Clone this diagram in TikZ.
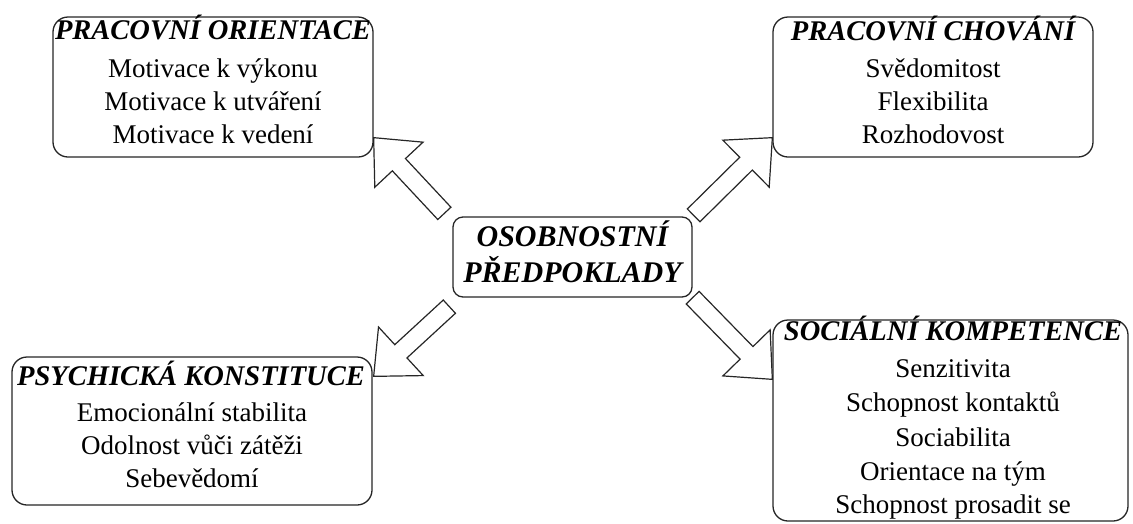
\documentclass[tikz,border=0pt]{standalone}
\usepackage{fontspec}
\setmainfont{Liberation Serif}
\usetikzlibrary{calc}
\tikzset{
  box/.style={draw=black!85, line width=1.3pt, rounded corners=15pt, fill=white, inner sep=0pt},
  cbox/.style={draw=black!85, line width=1.3pt, rounded corners=10pt, fill=white, inner sep=0pt},
  txt/.style={inner sep=0pt, anchor=base, font=\fontsize{27}{33}\selectfont},
  ttl/.style={inner sep=0pt, anchor=base, font=\fontsize{28.5}{33}\selectfont\bfseries\itshape},
  ctl/.style={inner sep=0pt, anchor=base, font=\fontsize{30}{36}\selectfont\bfseries\itshape},
  blockarrow/.style={draw=black!85, line width=1.2pt, fill=white, line join=miter,
    to path={
      ($(\tikztostart)!9pt!90:(\tikztotarget)$)
      -- ($(\tikztotarget)!37pt!(\tikztostart)!9pt!-90:(\tikztostart)$)
      -- ($(\tikztotarget)!37pt!(\tikztostart)!33pt!-90:(\tikztostart)$)
      -- (\tikztotarget)
      -- ($(\tikztotarget)!37pt!(\tikztostart)!33pt!90:(\tikztostart)$)
      -- ($(\tikztotarget)!37pt!(\tikztostart)!9pt!90:(\tikztostart)$)
      -- ($(\tikztostart)!9pt!-90:(\tikztotarget)$)
      -- cycle}}
}
\begin{document}
\begin{tikzpicture}[x=1pt,y=-1pt]
\useasboundingbox (0,0) rectangle (1133,523);
% boxes
\node[box, minimum width=320pt, minimum height=140pt] (po) at (213,87) {};
\node[box, minimum width=320pt, minimum height=140pt] (pch) at (933,87) {};
\node[cbox, minimum width=239pt, minimum height=80pt] (c) at (572.5,257) {};
\node[box, minimum width=360pt, minimum height=148pt] (pk) at (192,431) {};
\node[box, minimum width=355pt, minimum height=201pt] (sk) at (950.5,420.5) {};
% texts
\node[ttl] (po0) at (213,39) {PRACOVNÍ ORIENTACE};
\node[txt] (po1) at (213,77) {Motivace k výkonu};
\node[txt] (po2) at (213,110) {Motivace k utváření};
\node[txt] (po3) at (213,143) {Motivace k vedení};
\node[ttl] (pch0) at (933,40) {PRACOVNÍ CHOVÁNÍ};
\node[txt] (pch1) at (933,77) {Svědomitost};
\node[txt] (pch2) at (933,110) {Flexibilita};
\node[txt] (pch3) at (933,143) {Rozhodovost};
\node[ctl] (c0) at (572.5,246) {OSOBNOSTNÍ};
\node[ctl] (c1) at (572.5,282) {PŘEDPOKLADY};
\node[ttl] (pk0) at (191,385) {PSYCHICKÁ KONSTITUCE};
\node[txt] (pk1) at (192,421) {Emocionální stabilita};
\node[txt] (pk2) at (192,454) {Odolnost vůči zátěži};
\node[txt] (pk3) at (192,487) {Sebevědomí};
\node[ttl] (sk0) at (953,340) {SOCIÁLNÍ KOMPETENCE};
\node[txt] (sk1) at (953,377) {Senzitivita};
\node[txt] (sk2) at (953,411) {Schopnost kontaktů};
\node[txt] (sk3) at (953,446) {Sociabilita};
\node[txt] (sk4) at (953,480) {Orientace na tým};
\node[txt] (sk5) at (953,513) {Schopnost prosadit se};
% arrow end points
\coordinate (a1s) at ($(c.north west)+(-8,-3)$);
\coordinate (a1e) at ($(po.south east)+(0,-20)$);
\coordinate (a2s) at ($(c.north east)+(1,-1)$);
\coordinate (a2e) at ($(pch.south west)+(0,-20)$);
\coordinate (a3s) at ($(c.south west)+(-3,9)$);
\coordinate (a3e) at ($(pk.north east)+(1,20)$);
\coordinate (a4s) at ($(c.south east)+(0,0)$);
\coordinate (a4e) at ($(sk.north west)+(0,60)$);
\draw[blockarrow] (a1s) to (a1e);
\draw[blockarrow] (a2s) to (a2e);
\draw[blockarrow] (a3s) to (a3e);
\draw[blockarrow] (a4s) to (a4e);
\end{tikzpicture}
\end{document}
